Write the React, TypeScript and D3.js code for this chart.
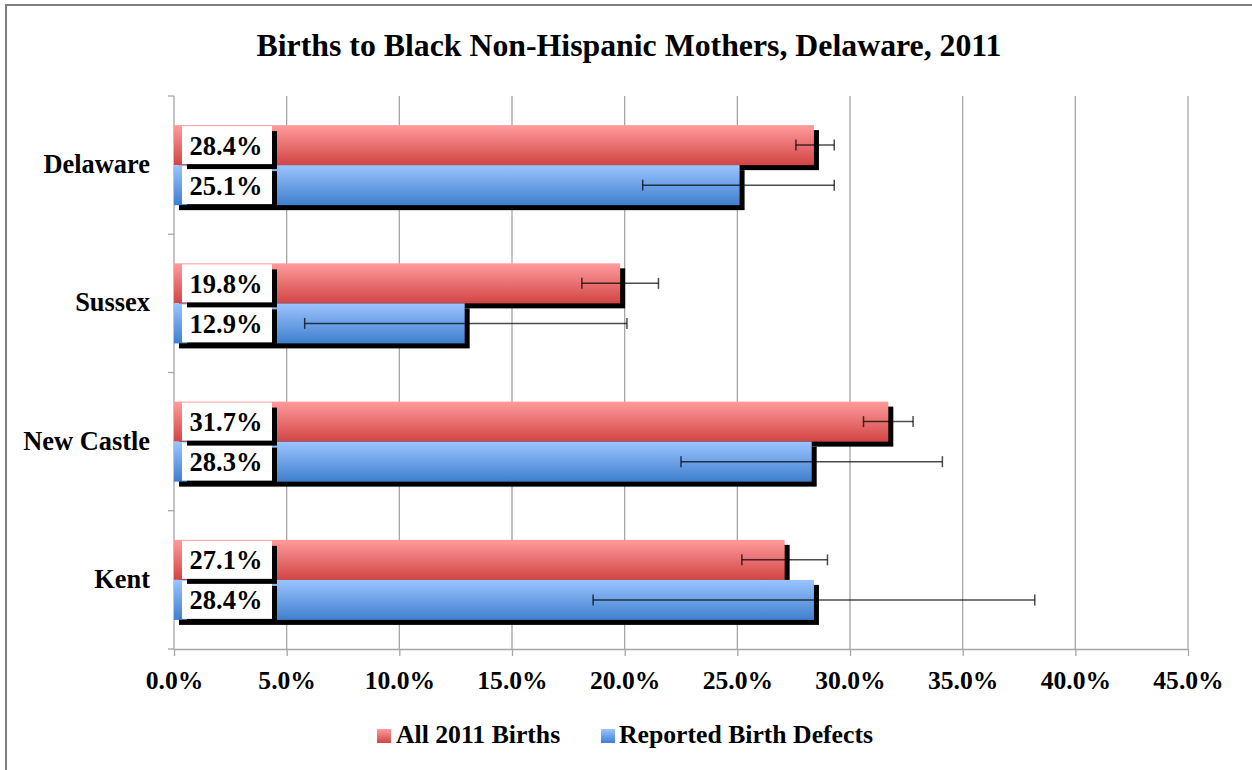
import React, { useEffect, useRef } from 'react';
import * as d3 from 'd3';

// values (percent)
const categories = ['Delaware', 'Sussex', 'New Castle', 'Kent'];
const seriesNames = ['All 2011 Births', 'Reported Birth Defects'];
const allBirths = [28.4, 19.8, 31.7, 27.1];
const birthDefects = [25.1, 12.9, 28.3, 28.4];
const allBirthsLow = [27.6, 18.1, 30.6, 25.2];
const allBirthsHigh = [29.3, 21.5, 32.8, 29.0];
const defectsLow = [20.8, 5.8, 22.5, 18.6];
const defectsHigh = [29.3, 20.1, 34.1, 38.2];
const xTicks = [0, 5, 10, 15, 20, 25, 30, 35, 40, 45];

const W = 1252;
const H = 770;
const FONT = '"Liberation Serif", "Times New Roman", serif';

export default function App() {
  const ref = useRef<SVGSVGElement>(null);

  useEffect(() => {
    const svg = d3.select(ref.current);
    svg.selectAll('*').remove();

    const left = 174;
    const right = 1188;
    const top = 96;
    const bottom = 649;
    const shadow = 5;

    const x = d3.scaleLinear().domain([0, 45]).range([left, right]);
    const y = d3
      .scaleBand()
      .domain(categories)
      .range([top, bottom])
      .paddingInner(0.421)
      .paddingOuter(0.2105);
    const sub = d3
      .scaleBand()
      .domain(['all', 'defects'])
      .range([0, y.bandwidth()]);

    const defs = svg.append('defs');
    const grad = (id: string, c1: string, c2: string) => {
      const g = defs
        .append('linearGradient')
        .attr('id', id)
        .attr('x1', 0)
        .attr('y1', 0)
        .attr('x2', 0)
        .attr('y2', 1);
      g.append('stop').attr('offset', '0%').attr('stop-color', c1);
      g.append('stop').attr('offset', '100%').attr('stop-color', c2);
    };
    grad('gRed', '#ff9c9c', '#d24444');
    grad('gBlue', '#9cc4ff', '#3e7fcd');

    // outer frame
    svg
      .append('rect')
      .attr('x', 6)
      .attr('y', 5)
      .attr('width', W + 20)
      .attr('height', H + 20)
      .attr('fill', '#fff')
      .attr('stroke', '#7f7f7f')
      .attr('stroke-width', 2);

    // title
    svg
      .append('text')
      .attr('x', 629)
      .attr('y', 56)
      .attr('text-anchor', 'middle')
      .attr('font-family', FONT)
      .attr('font-weight', 'bold')
      .attr('font-size', 31.8)
      .text('Births to Black Non-Hispanic Mothers, Delaware, 2011');

    // gridlines
    svg
      .append('g')
      .selectAll('line')
      .data(xTicks.slice(1))
      .enter()
      .append('line')
      .attr('x1', (d) => x(d))
      .attr('x2', (d) => x(d))
      .attr('y1', top)
      .attr('y2', bottom)
      .attr('stroke', '#a6a6a6')
      .attr('stroke-width', 1.3);

    // x axis
    const xAxis = d3
      .axisBottom(x)
      .tickValues(xTicks)
      .tickSize(7)
      .tickSizeOuter(0)
      .tickFormat((d: any) => `${(+d).toFixed(1)}%`);
    const gx = svg
      .append('g')
      .attr('transform', `translate(0,${bottom})`)
      .call(xAxis);
    gx.selectAll('path, line').attr('stroke', '#a6a6a6').attr('stroke-width', 1.3);
    gx.selectAll('text')
      .attr('font-family', FONT)
      .attr('font-weight', 'bold')
      .attr('font-size', 25.6)
      .attr('fill', '#000')
      .attr('dy', 0)
      .attr('y', 40);

    // y axis line + ticks at group boundaries
    svg
      .append('line')
      .attr('x1', left)
      .attr('x2', left)
      .attr('y1', top)
      .attr('y2', bottom)
      .attr('stroke', '#a6a6a6')
      .attr('stroke-width', 1.3);
    const step = y.step();
    svg
      .append('g')
      .selectAll('line')
      .data(d3.range(categories.length + 1))
      .enter()
      .append('line')
      .attr('x1', left - 6)
      .attr('x2', left)
      .attr('y1', (i) => top + i * step)
      .attr('y2', (i) => top + i * step)
      .attr('stroke', '#a6a6a6')
      .attr('stroke-width', 1.3);

    svg
      .append('g')
      .selectAll('text')
      .data(categories)
      .enter()
      .append('text')
      .attr('x', 150)
      .attr('y', (d) => y(d)! + y.bandwidth() / 2 + 8)
      .attr('text-anchor', 'end')
      .attr('font-family', FONT)
      .attr('font-weight', 'bold')
      .attr('font-size', 26.4)
      .text((d) => d);

    const series = [
      { key: 'all', values: allBirths, lo: allBirthsLow, hi: allBirthsHigh, fill: 'url(#gRed)' },
      { key: 'defects', values: birthDefects, lo: defectsLow, hi: defectsHigh, fill: 'url(#gBlue)' },
    ];
    const bh = sub.bandwidth();

    // bars with drop shadow
    series.forEach((s) => {
      const g = svg.append('g');
      g.selectAll('rect.sh')
        .data(categories)
        .enter()
        .append('rect')
        .attr('x', x(0) + shadow)
        .attr('y', (d) => y(d)! + sub(s.key)! + shadow)
        .attr('width', (d, i) => x(s.values[i]) - x(0))
        .attr('height', bh)
        .attr('fill', '#000');
      g.selectAll('rect.bar')
        .data(categories)
        .enter()
        .append('rect')
        .attr('x', x(0))
        .attr('y', (d) => y(d)! + sub(s.key)!)
        .attr('width', (d, i) => x(s.values[i]) - x(0))
        .attr('height', bh)
        .attr('fill', s.fill);
    });

    // error bars
    series.forEach((s) => {
      const g = svg.append('g').attr('stroke', '#000').attr('stroke-opacity', 0.7).attr('stroke-width', 1.5);
      categories.forEach((c, i) => {
        const cy = y(c)! + sub(s.key)! + bh / 2;
        g.append('line').attr('x1', x(s.lo[i])).attr('x2', x(s.hi[i])).attr('y1', cy).attr('y2', cy);
        [s.lo[i], s.hi[i]].forEach((v) => {
          g.append('line').attr('x1', x(v)).attr('x2', x(v)).attr('y1', cy - 5.5).attr('y2', cy + 5.5);
        });
      });
    });

    // data labels (drawn blue first so the red label shadow sits on top)
    const lw = 90;
    const lh = 38;
    [...series].reverse().forEach((s) => {
      const g = svg.append('g');
      categories.forEach((c, i) => {
        const cy = y(c)! + sub(s.key)! + bh / 2;
        const lx = x(0) + 8;
        g.append('rect')
          .attr('x', lx + shadow)
          .attr('y', cy - lh / 2 + shadow)
          .attr('width', lw)
          .attr('height', lh)
          .attr('fill', '#000');
        g.append('rect')
          .attr('x', lx)
          .attr('y', cy - lh / 2)
          .attr('width', lw)
          .attr('height', lh)
          .attr('fill', '#fff');
        g.append('text')
          .attr('x', lx + lw / 2 - 1)
          .attr('y', cy + 9.5)
          .attr('text-anchor', 'middle')
          .attr('font-family', FONT)
          .attr('font-weight', 'bold')
          .attr('font-size', 26.5)
          .text(`${s.values[i].toFixed(1)}%`);
      });
    });

    // legend
    const legend = [
      { name: seriesNames[0], fill: 'url(#gRed)', sx: 377, tx: 396 },
      { name: seriesNames[1], fill: 'url(#gBlue)', sx: 601, tx: 619 },
    ];
    legend.forEach((l) => {
      svg
        .append('rect')
        .attr('x', l.sx)
        .attr('y', 729)
        .attr('width', 14)
        .attr('height', 14)
        .attr('fill', l.fill);
      svg
        .append('text')
        .attr('x', l.tx)
        .attr('y', 743)
        .attr('font-family', FONT)
        .attr('font-weight', 'bold')
        .attr('font-size', 25.7)
        .text(l.name);
    });
  }, []);

  return (
    <svg
      ref={ref}
      width={W}
      height={H}
      style={{ position: 'absolute', left: 0, top: 0, background: '#fff' }}
    />
  );
}
